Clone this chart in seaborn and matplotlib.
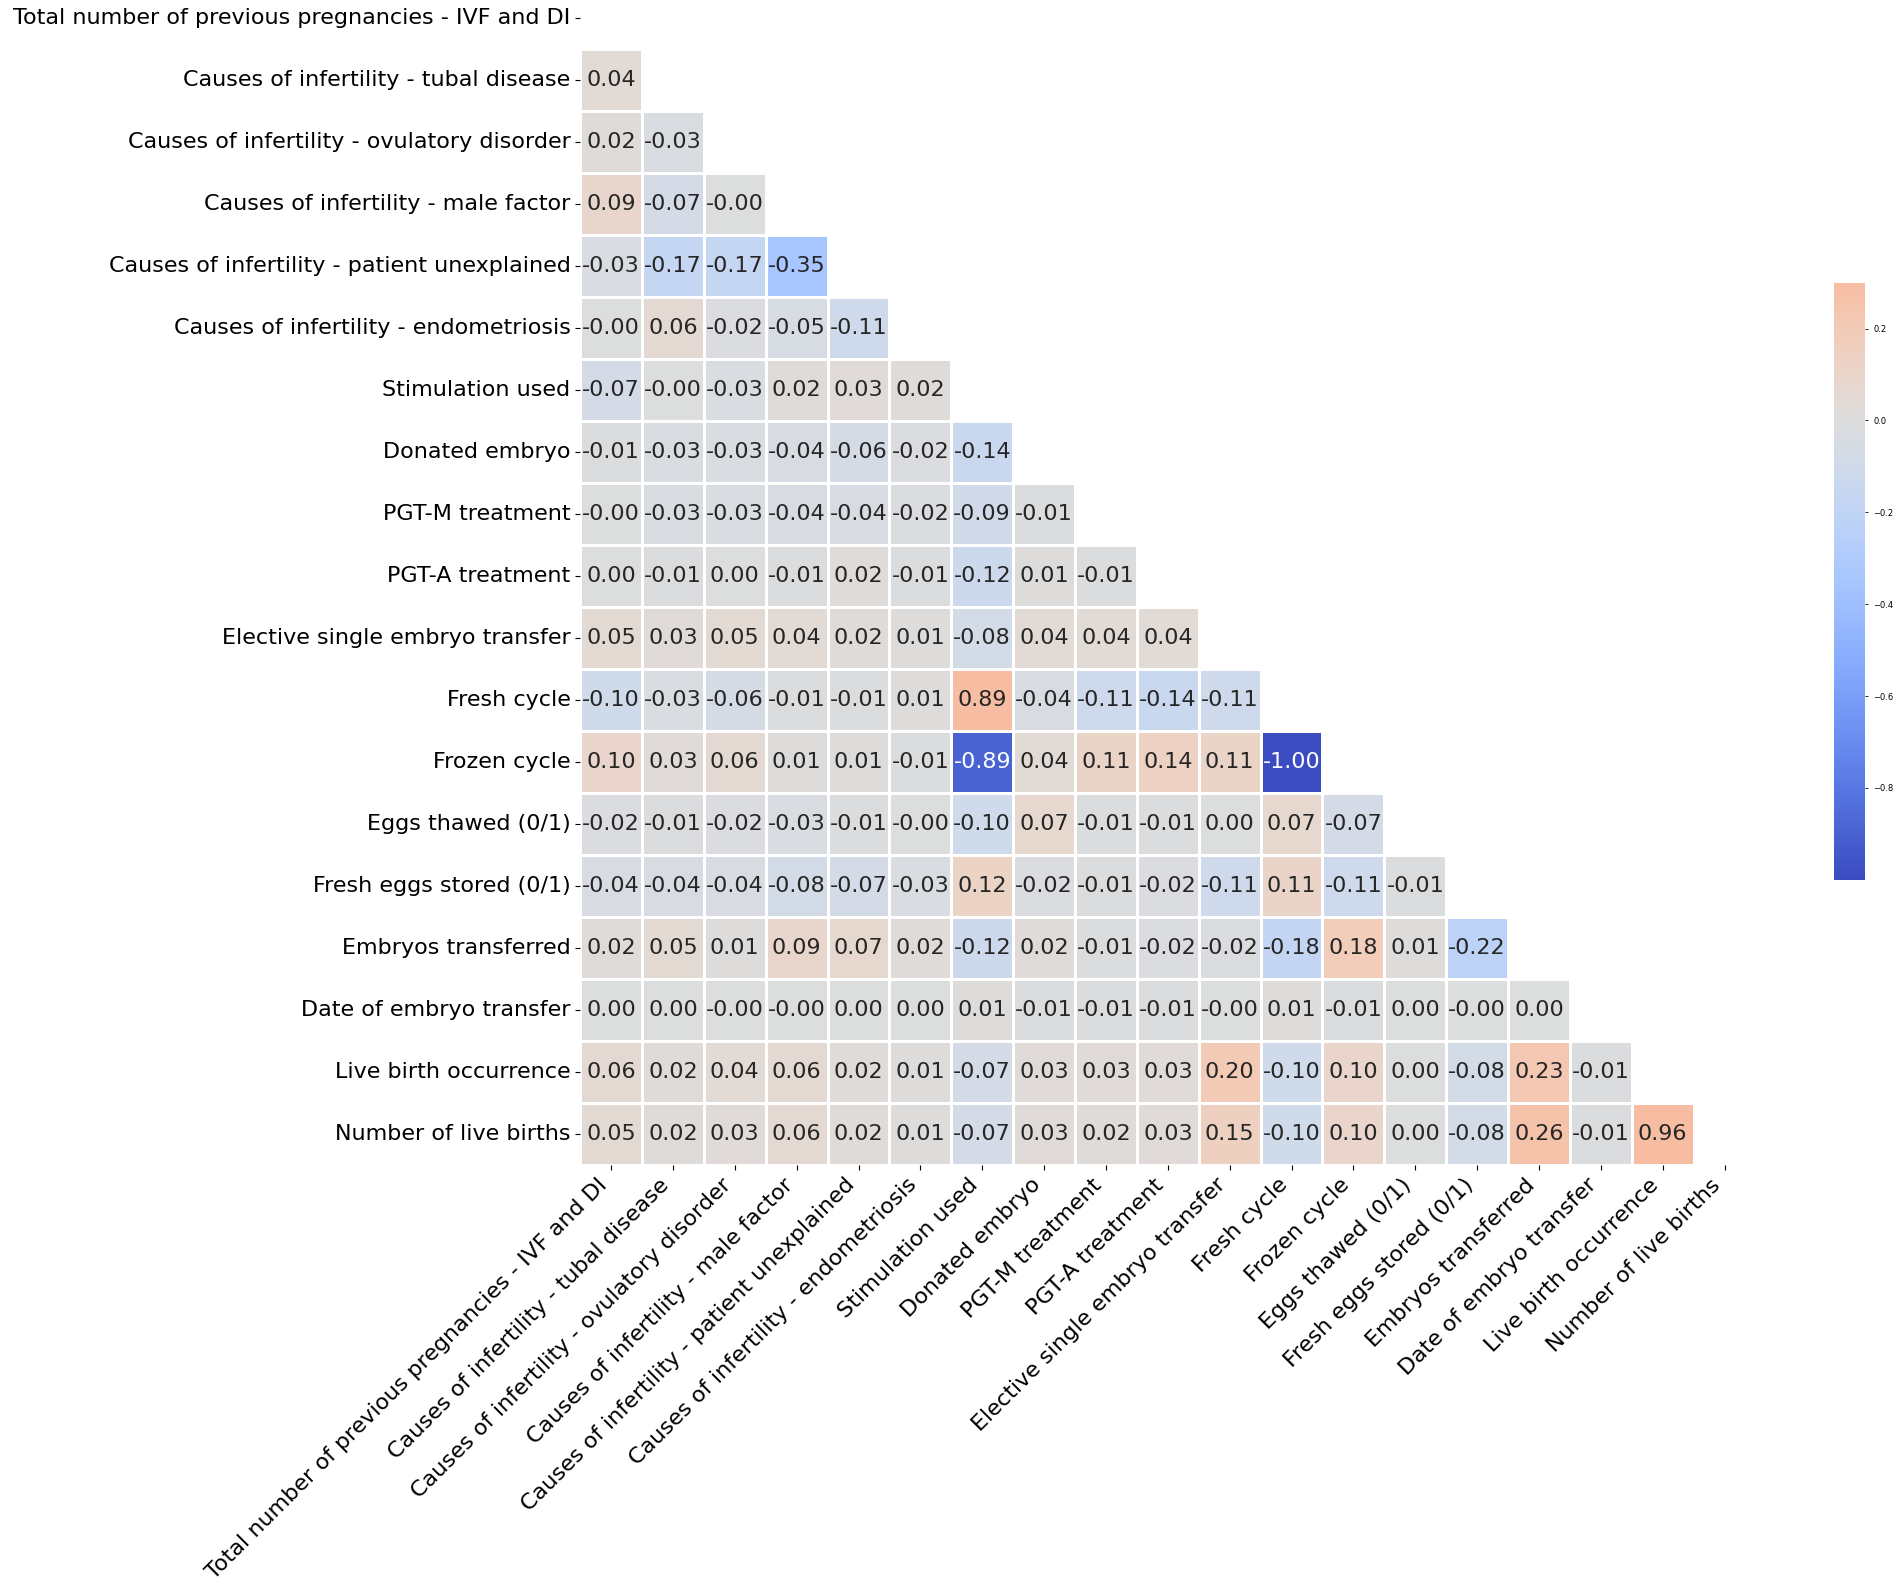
import numpy as np
import pandas as pd
import matplotlib
matplotlib.use("Agg")
import matplotlib.pyplot as plt
import seaborn as sns

# feature names (rows and columns of the correlation matrix)
labels = [
    "Total number of previous pregnancies - IVF and DI",
    "Causes of infertility - tubal disease",
    "Causes of infertility - ovulatory disorder",
    "Causes of infertility - male factor",
    "Causes of infertility - patient unexplained",
    "Causes of infertility - endometriosis",
    "Stimulation used",
    "Donated embryo",
    "PGT-M treatment",
    "PGT-A treatment",
    "Elective single embryo transfer",
    "Fresh cycle",
    "Frozen cycle",
    "Eggs thawed (0/1)",
    "Fresh eggs stored (0/1)",
    "Embryos transferred",
    "Date of embryo transfer",
    "Live birth occurrence",
    "Number of live births",
]

# lower triangle, read row by row (-0.001 stands for a shown "-0.00")
lower_rows = [
    [],
    [0.04],
    [0.02, -0.03],
    [0.09, -0.07, -0.001],
    [-0.03, -0.17, -0.17, -0.35],
    [-0.001, 0.06, -0.02, -0.05, -0.11],
    [-0.07, -0.001, -0.03, 0.02, 0.03, 0.02],
    [-0.01, -0.03, -0.03, -0.04, -0.06, -0.02, -0.14],
    [-0.001, -0.03, -0.03, -0.04, -0.04, -0.02, -0.09, -0.01],
    [0.00, -0.01, 0.00, -0.01, 0.02, -0.01, -0.12, 0.01, -0.01],
    [0.05, 0.03, 0.05, 0.04, 0.02, 0.01, -0.08, 0.04, 0.04, 0.04],
    [-0.10, -0.03, -0.06, -0.01, -0.01, 0.01, 0.89, -0.04, -0.11, -0.14, -0.11],
    [0.10, 0.03, 0.06, 0.01, 0.01, -0.01, -0.89, 0.04, 0.11, 0.14, 0.11, -1.00],
    [-0.02, -0.01, -0.02, -0.03, -0.01, -0.001, -0.10, 0.07, -0.01, -0.01, 0.00, 0.07, -0.07],
    [-0.04, -0.04, -0.04, -0.08, -0.07, -0.03, 0.12, -0.02, -0.01, -0.02, -0.11, 0.11, -0.11, -0.01],
    [0.02, 0.05, 0.01, 0.09, 0.07, 0.02, -0.12, 0.02, -0.01, -0.02, -0.02, -0.18, 0.18, 0.01, -0.22],
    [0.00, 0.00, -0.001, -0.001, 0.00, 0.00, 0.01, -0.01, -0.01, -0.01, -0.001, 0.01, -0.01, 0.00, -0.001, 0.00],
    [0.06, 0.02, 0.04, 0.06, 0.02, 0.01, -0.07, 0.03, 0.03, 0.03, 0.20, -0.10, 0.10, 0.00, -0.08, 0.23, -0.01],
    [0.05, 0.02, 0.03, 0.06, 0.02, 0.01, -0.07, 0.03, 0.02, 0.03, 0.15, -0.10, 0.10, 0.00, -0.08, 0.26, -0.01, 0.96],
]

n = len(labels)
corr = np.eye(n)
for i, row in enumerate(lower_rows):
    for j, v in enumerate(row):
        corr[i, j] = v
        corr[j, i] = v
corr = pd.DataFrame(corr, index=labels, columns=labels)
mask = np.triu(np.ones_like(corr, dtype=bool))

fig = plt.figure(figsize=(19.02, 15.88), dpi=100)
ax = fig.add_axes([0.305, 0.2664, 0.618, 0.742])
cax = fig.add_axes([0.964, 0.446, 0.0165, 0.376])

sns.heatmap(corr, mask=mask, cmap="coolwarm", center=0, vmin=-1, vmax=0.3,
            annot=True, fmt=".2f", annot_kws={"size": 16},
            linewidths=1, linecolor="white", ax=ax, cbar_ax=cax)

ax.set_xticklabels(ax.get_xticklabels(), rotation=45, ha="right", fontsize=16)
ax.set_yticklabels(ax.get_yticklabels(), rotation=0, fontsize=16)
cax.set_yticks([0.2, 0.0, -0.2, -0.4, -0.6, -0.8])
cax.tick_params(labelsize=6, length=2.5, width=0.6)

fig.savefig("out.png", dpi=100)
